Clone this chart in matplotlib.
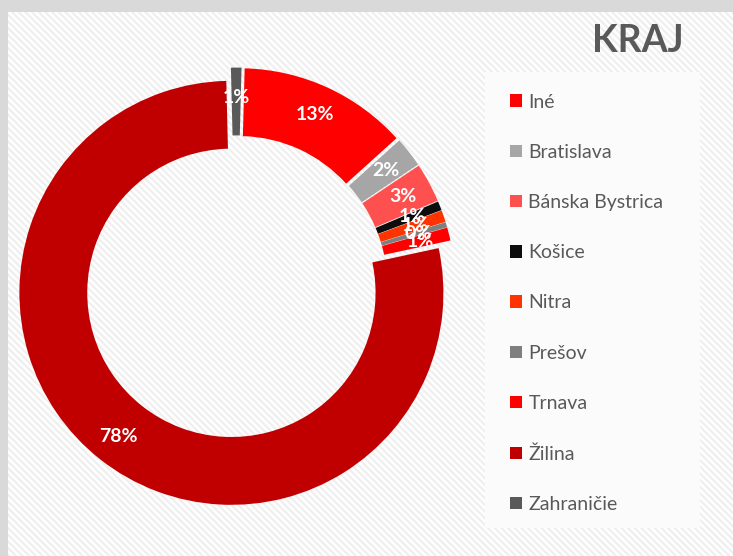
import matplotlib
matplotlib.use("Agg")
import matplotlib.pyplot as plt
from matplotlib.patches import Rectangle

# data
categories = ["Iné", "Bratislava", "Bánska Bystrica", "Košice", "Nitra",
              "Prešov", "Trnava", "Žilina", "Zahraničie"]
values = [12.9, 2.3, 3.0, 0.7, 0.9, 0.4, 1.0, 78.0, 0.8]
colors = ["#ff0000", "#a6a6a6", "#ff5050", "#0d0d0d", "#ff3300",
          "#7f7f7f", "#ff0000", "#c00000", "#595959"]

plt.rcParams['font.family'] = ['Lato', 'DejaVu Sans']
plt.rcParams['hatch.linewidth'] = 1.6

W, H = 733, 556
fig = plt.figure(figsize=(W / 100, H / 100), dpi=100, facecolor="#d9d9d9")

# chart area with fine diagonal stripes
bg = Rectangle((8 / W, 0), 1, (H - 12) / H, transform=fig.transFigure,
               facecolor="white", edgecolor="#efefef", hatch="\\" * 5, lw=0, zorder=-2)
fig.patches.append(bg)

# legend box
lb = Rectangle((485 / W, (H - 528) / H), 215 / W, 456 / H, transform=fig.transFigure,
               facecolor="#fbfbfb", edgecolor="none", zorder=-1)
fig.patches.append(lb)

# donut
cx, cy, R, RA = 236, 287, 212, 260
ax = fig.add_axes([(cx - RA) / W, (H - cy - RA) / H, 2 * RA / W, 2 * RA / H])
ax.axis('off')
ax.patch.set_visible(False)

wedges, texts, autotexts = ax.pie(
    values, colors=colors, explode=[0.035] * len(values), startangle=88.5,
    counterclock=False, radius=1, autopct=lambda p: f"{p:.0f}%", pctdistance=0.86,
    wedgeprops=dict(width=0.32, linewidth=0),
    textprops=dict(color="white", fontsize=14, fontweight="bold"))

ax.set_xlim(-RA / R, RA / R)
ax.set_ylim(-RA / R, RA / R)

fig.text(684 / W, 1 - 41 / H, "KRAJ", ha="right", va="center",
         fontsize=27, fontweight="bold", color="#595959")

leg = fig.legend(wedges, categories, loc="upper left",
                 bbox_to_anchor=(492 / W, 1 - 76 / H), frameon=False,
                 fontsize=14, labelcolor="#595959", labelspacing=1.71,
                 handlelength=0.62, handleheight=0.62, handletextpad=0.35)

fig.savefig("out.png", dpi=100, facecolor=fig.get_facecolor())
